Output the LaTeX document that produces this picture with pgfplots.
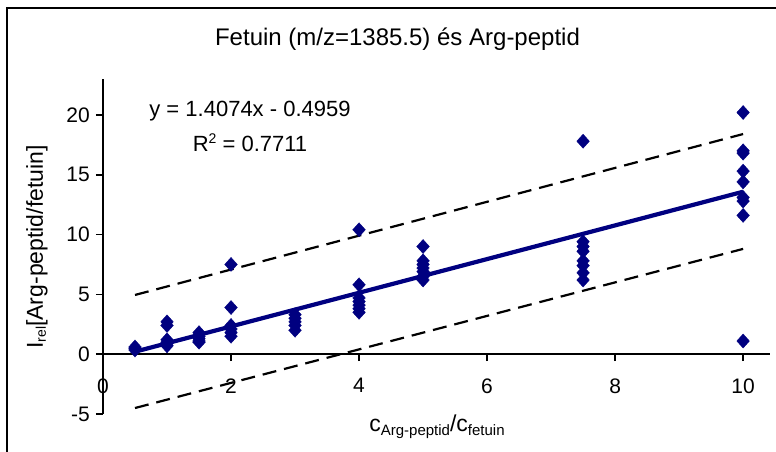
\documentclass[border=0pt]{standalone}
\usepackage{pgfplots}
\pgfplotsset{compat=1.18}
\usepackage{fontspec}
\setmainfont{Liberation Sans}
\definecolor{navy}{RGB}{0,0,128}
\begin{document}
\begin{tikzpicture}
\begin{axis}[
  scale only axis, width=667pt, height=335pt,
  xmin=0, xmax=10.42, ymin=-5, ymax=23,
  axis x line*=middle, axis y line*=left,
  axis line style={line width=1.6pt, black},
  xtick={0,2,4,6,8,10}, xticklabels={0,2,4,6,8,10},
  ytick={-5,0,5,10,15,20}, yticklabels={-5,0,5,10,15,20},
  tick align=outside, major tick length=7pt,
  tick style={line width=1.6pt, black},
  hide obscured x ticks=false,
  ticklabel style={font=\fontsize{21}{21}\selectfont},
  xticklabel style={anchor=north, inner sep=0pt, yshift=-17pt},
  yticklabel style={anchor=east, inner sep=0pt, xshift=-6pt},
  clip=false,
]
\addplot[black, line width=2.2pt, dash pattern=on 14pt off 8pt] coordinates {(0.5,4.95) (10,18.4)};
\addplot[black, line width=2.2pt, dash pattern=on 14pt off 8pt] coordinates {(0.5,-4.5) (10,8.8)};
\addplot[navy, line width=4.2pt] coordinates {(0.5,0.208) (10,13.578)};
\addplot[only marks, mark=diamond*, mark size=7pt, navy, mark options={fill=navy, draw=navy, xscale=1.2}] coordinates {
(0.5,0.35) (0.5,0.5) (0.5,0.6)
(1,2.7) (1,2.4) (1,1.2) (1,1.0) (1,0.9) (1,0.7)
(1.5,1.8) (1.5,1.5) (1.5,1.3) (1.5,1.1) (1.5,1.0)
(2,7.5) (2,3.9) (2,2.4) (2,2.1) (2,1.8) (2,1.5)
(3,3.3) (3,3.0) (3,2.7) (3,2.4) (3,2.0)
(4,10.4) (4,5.8) (4,4.7) (4,4.4) (4,4.1) (4,3.8) (4,3.5)
(5,9.0) (5,7.8) (5,7.5) (5,7.2) (5,6.9) (5,6.5) (5,6.2)
(7.5,17.8) (7.5,9.4) (7.5,9.0) (7.5,8.6) (7.5,7.8) (7.5,7.4) (7.5,6.8) (7.5,6.2)
(10,20.2) (10,17.0) (10,16.8) (10,15.3) (10,14.4) (10,13.1) (10,12.8) (10,11.6) (10,1.1)
};
\end{axis}
\draw[line width=1.5pt] (-96pt,-80pt) -- (-96pt,406pt) -- (720pt,406pt);
\node[anchor=base, font=\fontsize{24}{24}\selectfont] at (294.5pt,368pt) {Fetuin (m/z=1385.5) és Arg-peptid};
\node[anchor=base, font=\fontsize{22}{22}\selectfont] at (147pt,298pt) {y = 1.4074x - 0.4959};
\node[anchor=base, font=\fontsize{22}{22}\selectfont] at (147pt,263pt) {R\raisebox{8pt}{\fontsize{14}{14}\selectfont 2} = 0.7711};
\node[rotate=90, anchor=center, font=\fontsize{23}{23}\selectfont] at (-66pt,167pt) {I{\fontsize{14}{14}\selectfont\raisebox{-3pt}{rel}}[Arg-peptid/fetuin]};
\node[anchor=center, font=\fontsize{23}{23}\selectfont] at (334pt,-13pt) {c{\fontsize{15}{15}\selectfont\raisebox{-4pt}{Arg-peptid}}/c{\fontsize{15}{15}\selectfont\raisebox{-4pt}{fetuin}}};
\pgfresetboundingbox
\path[use as bounding box] (-103pt,-37pt) rectangle (673pt,414pt);
\end{tikzpicture}
\end{document}
